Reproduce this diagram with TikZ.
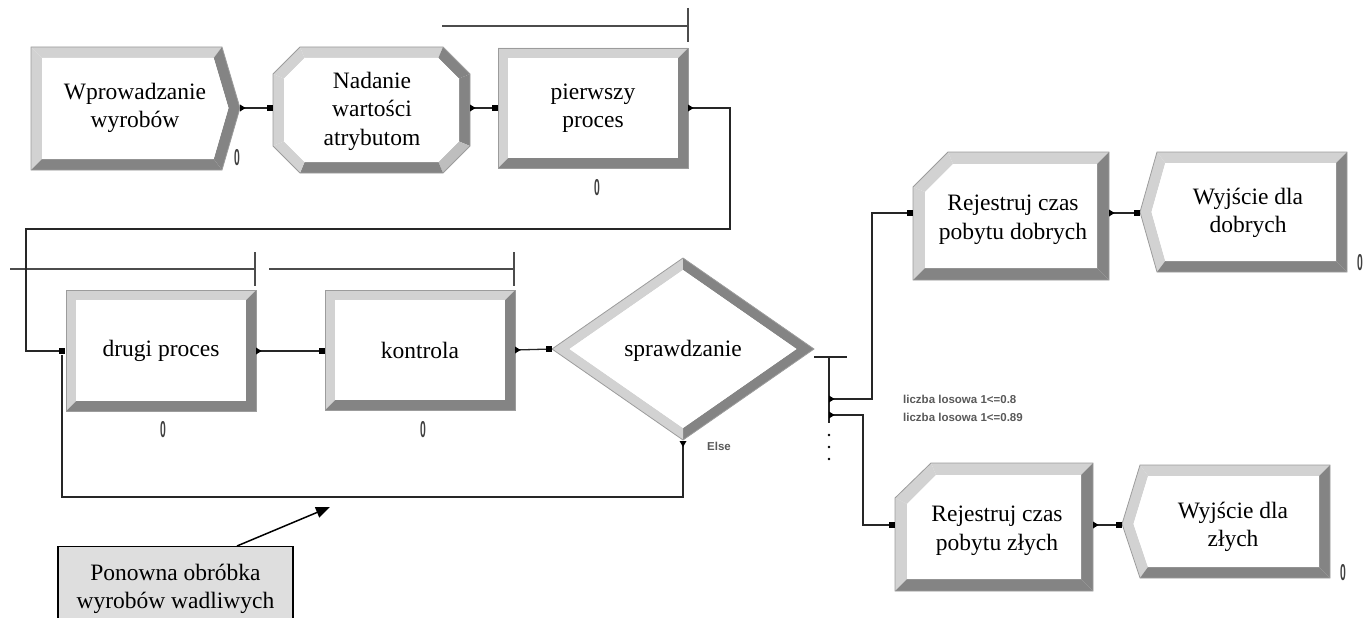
\documentclass[tikz,border=0pt]{standalone}
\usepackage{graphicx}
\usepackage{fontspec}
\setmainfont{Liberation Serif}
\newfontfamily\uisans{Liberation Sans}
\usetikzlibrary{arrows.meta}
\definecolor{bvlight}{HTML}{D2D2D2}
\definecolor{bvdark}{HTML}{848484}
\definecolor{bvmid}{HTML}{BEBEBE}
\definecolor{bvedge}{HTML}{9C9C9C}
\definecolor{notefill}{HTML}{DEDEDE}
% one bevel facet: colour, then its four corners
\newcommand\facet[5]{\fill[#1] #2 -- #3 -- #4 -- #5 -- cycle;}
% rectangular module with a raised bevel (x1,y1,x2,y2)
\newcommand\procbox[4]{%
  \fill[bvdark] (#1,#2) rectangle (#3,#4);
  \fill[bvlight] (#1,#2) -- (#3,#2) -- ({#3-10},{#2+10}) -- ({#1+10},{#4-10}) -- (#1,#4) -- cycle;
  \fill[white] ({#1+10},{#2+10}) rectangle ({#3-10},{#4-10});
  \draw[rim] (#1,#2) rectangle (#3,#4);}
% port markers
\newcommand\inport[1]{\fill (#1) ++(-6,-3) rectangle ++(6,6);}
\newcommand\outport[1]{\fill (#1) ++(0,-3.5) -- ++(5.5,3.5) -- ++(-5.5,3.5) -- cycle;}
% narrow counter digit
\newcommand\cnt{\scalebox{0.45}[1]{0}}
\begin{document}
\begin{tikzpicture}[x=1pt,y=-1pt,
  modtext/.style={align=center,font=\fontsize{23.5}{28.5}\selectfont,inner sep=0pt},
  link/.style={line width=1.3pt,draw=black!85},
  queue/.style={line width=1.3pt,draw=black!70},
  rim/.style={draw=bvedge,line width=0.8pt},
  condlbl/.style={font=\uisans\bfseries\fontsize{11.5}{12}\selectfont,text=black!65,anchor=west,inner sep=0pt},
  zerolbl/.style={font=\uisans\bfseries\fontsize{23}{23}\selectfont,inner sep=0pt,text=black!75}]
\useasboundingbox (0,0) rectangle (1366,618);

% ---------- Create: Wprowadzanie wyrobów ----------
\facet{bvlight}{(31,47)}{(222,47)}{(213.7,58)}{(42,58)}
\facet{bvlight}{(31,170)}{(31,47)}{(42,58)}{(42,159)}
\facet{bvdark}{(222,47)}{(240,108)}{(228.5,108)}{(213.7,58)}
\facet{bvdark}{(240,108)}{(222,170)}{(213.7,159)}{(228.5,108)}
\facet{bvdark}{(222,170)}{(31,170)}{(42,159)}{(213.7,159)}
\fill[white] (42,58) -- (213.7,58) -- (228.5,108) -- (213.7,159) -- (42,159) -- cycle;
\draw[rim] (31,47) -- (222,47) -- (240,108) -- (222,170) -- (31,170) -- cycle;
\node[modtext] (create) at (135,108) {Wprowadzanie\\wyrobów};

% ---------- Assign: Nadanie wartości atrybutom ----------
\facet{bvlight}{(273,74)}{(300,47)}{(304.6,58)}{(284,78.6)}
\facet{bvlight}{(300,47)}{(443,47)}{(438.4,58)}{(304.6,58)}
\facet{bvdark}{(443,47)}{(470,74)}{(459,78.6)}{(438.4,58)}
\facet{bvdark}{(470,74)}{(470,146)}{(459,141.4)}{(459,78.6)}
\facet{bvmid}{(470,146)}{(443,173)}{(438.4,162)}{(459,141.4)}
\facet{bvdark}{(443,173)}{(300,173)}{(304.6,162)}{(438.4,162)}
\facet{bvlight}{(300,173)}{(273,146)}{(284,141.4)}{(304.6,162)}
\facet{bvlight}{(273,146)}{(273,74)}{(284,78.6)}{(284,141.4)}
\fill[white] (284,78.6) -- (304.6,58) -- (438.4,58) -- (459,78.6) -- (459,141.4) -- (438.4,162) -- (304.6,162) -- (284,141.4) -- cycle;
\draw[rim] (273,74) -- (300,47) -- (443,47) -- (470,74) -- (470,146) -- (443,173) -- (300,173) -- (273,146) -- cycle;
\node[modtext] (assign) at (372,111) {Nadanie\\wartości\\atrybutom};

% ---------- Process modules ----------
\procbox{498}{48}{688}{168}
\node[modtext] (proc1) at (593,108) {pierwszy\\proces};
\procbox{66}{290}{256}{411}
\node[modtext] (proc2) at (161,351) {drugi proces};
\procbox{325}{290}{515}{410}
\node[modtext] (check) at (420,350) {kontrola};

% queue lines
\draw[queue] (442,26) -- (688,26);
\draw[queue] (688,8) -- (688,42);
\draw[queue] (10,269) -- (255,269);
\draw[queue] (255,252) -- (255,286);
\draw[queue] (269,269) -- (514,269);
\draw[queue] (514,252) -- (514,286);

% ---------- Decide: sprawdzanie ----------
\facet{bvlight}{(552,349)}{(683,258)}{(683,270)}{(569.5,349)}
\facet{bvdark}{(683,258)}{(814,349)}{(796.5,349)}{(683,270)}
\facet{bvdark}{(814,349)}{(683,440)}{(683,428)}{(796.5,349)}
\facet{bvlight}{(683,440)}{(552,349)}{(569.5,349)}{(683,428)}
\fill[white] (569.5,349) -- (683,270) -- (796.5,349) -- (683,428) -- cycle;
\draw[rim] (552,349) -- (683,258) -- (814,349) -- (683,440) -- cycle;
\node[modtext] (decide) at (683,351) {sprawdzanie};

% ---------- Record: pobytu dobrych ----------
\facet{bvlight}{(913,280)}{(913,187)}{(925,192)}{(925,268)}
\facet{bvlight}{(913,187)}{(948,152)}{(953,164)}{(925,192)}
\facet{bvlight}{(948,152)}{(1109,152)}{(1097,164)}{(953,164)}
\facet{bvdark}{(1109,152)}{(1109,280)}{(1097,268)}{(1097,164)}
\facet{bvdark}{(1109,280)}{(913,280)}{(925,268)}{(1097,268)}
\fill[white] (925,192) -- (953,164) -- (1097,164) -- (1097,268) -- (925,268) -- cycle;
\draw[rim] (913,187) -- (948,152) -- (1109,152) -- (1109,280) -- (913,280) -- cycle;
\node[modtext] (recgood) at (1013,220) {Rejestruj czas\\pobytu dobrych};

% ---------- Record: pobytu złych ----------
\facet{bvlight}{(895,591)}{(895,498)}{(907,504)}{(907,579)}
\facet{bvlight}{(895,498)}{(931,463)}{(936,475)}{(907,504)}
\facet{bvlight}{(931,463)}{(1093,463)}{(1081,475)}{(936,475)}
\facet{bvdark}{(1093,463)}{(1093,591)}{(1081,579)}{(1081,475)}
\facet{bvdark}{(1093,591)}{(895,591)}{(907,579)}{(1081,579)}
\fill[white] (907,504) -- (936,475) -- (1081,475) -- (1081,579) -- (907,579) -- cycle;
\draw[rim] (895,498) -- (931,463) -- (1093,463) -- (1093,591) -- (895,591) -- cycle;
\node[modtext] (recbad) at (997,531) {Rejestruj czas\\pobytu złych};

% ---------- Dispose: dla dobrych ----------
\facet{bvlight}{(1140,212)}{(1157,152)}{(1165.3,163)}{(1151.5,212)}
\facet{bvlight}{(1157,272)}{(1140,212)}{(1151.5,212)}{(1165.3,261)}
\facet{bvlight}{(1157,152)}{(1347,152)}{(1336,163)}{(1165.3,163)}
\facet{bvdark}{(1347,152)}{(1347,272)}{(1336,261)}{(1336,163)}
\facet{bvdark}{(1347,272)}{(1157,272)}{(1165.3,261)}{(1336,261)}
\fill[white] (1151.5,212) -- (1165.3,163) -- (1336,163) -- (1336,261) -- (1165.3,261) -- cycle;
\draw[rim] (1140,212) -- (1157,152) -- (1347,152) -- (1347,272) -- (1157,272) -- cycle;
\node[modtext] (outgood) at (1248,213) {Wyjście dla\\dobrych};

% ---------- Dispose: dla złych ----------
\facet{bvlight}{(1122,524)}{(1140,465)}{(1148.1,476)}{(1133.5,524)}
\facet{bvlight}{(1140,578)}{(1122,524)}{(1133.5,524)}{(1148,567)}
\facet{bvlight}{(1140,465)}{(1330,465)}{(1319,476)}{(1148.1,476)}
\facet{bvdark}{(1330,465)}{(1330,578)}{(1319,567)}{(1319,476)}
\facet{bvdark}{(1330,578)}{(1140,578)}{(1148,567)}{(1319,567)}
\fill[white] (1133.5,524) -- (1148.1,476) -- (1319,476) -- (1319,567) -- (1148,567) -- cycle;
\draw[rim] (1122,524) -- (1140,465) -- (1330,465) -- (1330,578) -- (1140,578) -- cycle;
\node[modtext] (outbad) at (1233,527) {Wyjście dla\\złych};

% ---------- counters ----------
\node[zerolbl] (n1) at (237,158) {\cnt};
\node[zerolbl] (n2) at (597,188) {\cnt};
\node[zerolbl] (n3) at (163,430) {\cnt};
\node[zerolbl] (n4) at (423,430) {\cnt};
\node[zerolbl] (n5) at (1360,263) {\cnt};
\node[zerolbl] (n6) at (1343,573) {\cnt};

% ---------- ports ----------
\coordinate (createOut) at (240,108);
\coordinate (assignIn) at (273,108);
\coordinate (assignOut) at (470,108);
\coordinate (proc1In) at (498,108);
\coordinate (proc1Out) at (688,108);
\coordinate (proc2In) at (65,351);
\coordinate (proc2Loop) at (62,355);
\coordinate (proc2Out) at (256,351);
\coordinate (checkIn) at (325,351);
\coordinate (checkOut) at (515,350);
\coordinate (decideIn) at (552,349);
\coordinate (decideOut) at (814,357);
\coordinate (condA) at (829,399);
\coordinate (condB) at (829,415);
\coordinate (elseOut) at (683,441);
\coordinate (recgoodIn) at (913,213);
\coordinate (recgoodOut) at (1109,213);
\coordinate (outgoodIn) at (1140,213);
\coordinate (recbadIn) at (895,525);
\coordinate (recbadOut) at (1093,525);
\coordinate (outbadIn) at (1122,525);

% ---------- connectors ----------
\draw[link] (createOut) -- (assignIn);
\draw[link] (assignOut) -- (proc1In);
\draw[link] (proc1Out) -- (730,108) |- (26,229) |- (proc2In);
\draw[link] (proc2Out) -- (checkIn);
\draw[link] (checkOut) -- (decideIn);
\draw[link] (decideOut) -- (847,357);
\draw[link] (829,357) -- (829,423);
\foreach \yy in {435,447,459} \fill (829,\yy) circle (1.4);
\draw[link] (condA) -- (872,399) |- (recgoodIn);
\draw[link] (condB) -- (863,415) |- (recbadIn);
\draw[link] (recgoodOut) -- (outgoodIn);
\draw[link] (recbadOut) -- (outbadIn);
\draw[link] (elseOut) -- (683,497) -| (proc2Loop);

\outport{createOut} \inport{assignIn}
\outport{assignOut} \inport{proc1In}
\outport{proc1Out} \inport{proc2In}
\outport{proc2Out} \inport{checkIn}
\outport{checkOut} \inport{decideIn}
\outport{condA} \outport{condB}
\inport{recgoodIn} \inport{recbadIn}
\outport{recgoodOut} \inport{outgoodIn}
\outport{recbadOut} \inport{outbadIn}
\fill (elseOut) ++(-3.5,0) -- ++(7,0) -- ++(-3.5,6) -- cycle;

% ---------- branch labels ----------
\node[condlbl] (c1) at (903,399) {liczba losowa 1<=0.8};
\node[condlbl] (c2) at (903,417) {liczba losowa 1<=0.89};
\node[condlbl] (c3) at (707,446) {Else};

% ---------- note ----------
\node[draw=black,line width=1.3pt,fill=notefill,minimum width=235pt,minimum height=90pt,anchor=north,inner sep=0pt] (note) at (175.5,546) {};
\node[modtext] (notetext) at (175.5,589) {Ponowna obróbka\\wyrobów wadliwych};
\coordinate (loopMark) at (330,507);
\draw[line width=1.5pt,-{Triangle[length=14pt,width=11pt]}] ([xshift=61.5pt]note.north) -- (loopMark);
\end{tikzpicture}
\end{document}
